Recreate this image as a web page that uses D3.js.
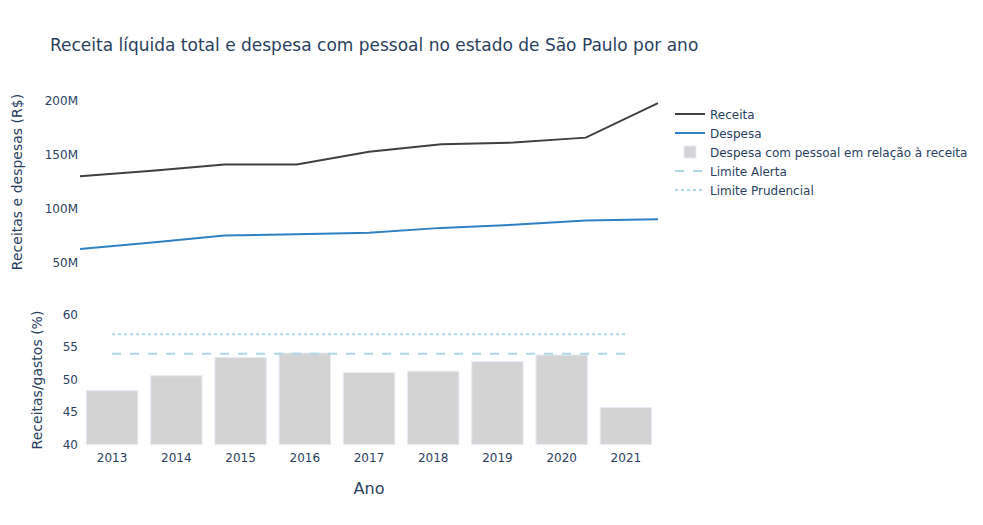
<!DOCTYPE html>
<html><head><meta charset="utf-8">
<script src="https://cdn.jsdelivr.net/npm/d3@7"></script>
<style>body{margin:0;background:#fff}svg{display:block;font-family:"DejaVu Sans",verdana,sans-serif}</style>
</head><body><svg id="c" width="983" height="525"></svg>
<script>
const years = [2013,2014,2015,2016,2017,2018,2019,2020,2021];
const receita = [129.7,134.8,140.5,140.5,152.3,159.3,160.8,165.4,197.3]; // millions R$
const despesa = [62.4,68.5,75.0,76.2,77.4,82.0,84.8,88.8,90.0];
const ratio = [48.3,50.6,53.4,54.1,51.1,51.3,52.8,53.8,45.7];
const limiteAlerta = [54,54,54,54,54,54,54,54,54];
const limitePrudencial = [57,57,57,57,57,57,57,57,57];
const topTicks = [50,100,150,200];
const bottomTicks = [40,45,50,55,60];

const svg = d3.select("#c");
const fc = "#2a3f5f";
const ff = '"DejaVu Sans",verdana,sans-serif';
const left = 80, right = 658;

const xTop = d3.scaleLinear().domain([2013,2021]).range([left,right]);
const yTop = d3.scaleLinear().domain([50,200]).range([262.5,100.2]);
const xBot = d3.scaleBand().domain(years.map(String)).range([left,right]).paddingInner(0.2).paddingOuter(0.1);
const yBot = d3.scaleLinear().domain([40,60]).range([444.5,314.7]);

svg.append("text").attr("x",50).attr("y",51).attr("fill",fc).attr("font-size",17)
  .text("Receita líquida total e despesa com pessoal no estado de São Paulo por ano");

const gTop = svg.append("g").attr("transform",`translate(${left-2},0)`)
  .call(d3.axisLeft(yTop).tickValues(topTicks).tickSize(0).tickPadding(0).tickFormat(d=>d+"M"))
  .attr("font-family",ff).attr("font-size",12);
gTop.select(".domain").remove();
gTop.selectAll("text").attr("fill",fc);

const line = (arr)=> d3.line().x((d,i)=>xTop(years[i])).y(d=>yTop(d))(arr);
svg.append("path").attr("d",line(receita)).attr("fill","none").attr("stroke","#404040").attr("stroke-width",2);
svg.append("path").attr("d",line(despesa)).attr("fill","none").attr("stroke","#2f80c3").attr("stroke-width",2);

svg.append("text").attr("transform",`translate(22,182) rotate(-90)`).attr("text-anchor","middle")
  .attr("fill",fc).attr("font-size",14).text("Receitas e despesas (R$)");

svg.append("g").selectAll("rect").data(ratio).join("rect")
  .attr("x",(d,i)=>xBot(String(years[i]))).attr("width",xBot.bandwidth())
  .attr("y",d=>yBot(d)).attr("height",d=>yBot(40)-yBot(d))
  .attr("fill","#d3d3d3").attr("stroke","#e5ecf6").attr("stroke-width",1);

const cx = (i)=> xBot(String(years[i])) + xBot.bandwidth()/2;
const lineB = (arr)=> d3.line().x((d,i)=>cx(i)).y(d=>yBot(d))(arr);
svg.append("path").attr("d",lineB(limiteAlerta)).attr("fill","none").attr("stroke","#add8e6").attr("stroke-width",2).attr("stroke-dasharray","9,9");
svg.append("path").attr("d",lineB(limitePrudencial)).attr("fill","none").attr("stroke","#add8e6").attr("stroke-width",2).attr("stroke-dasharray","3,3");

const gB = svg.append("g").attr("transform",`translate(${left-2},0)`)
  .call(d3.axisLeft(yBot).tickValues(bottomTicks).tickSize(0).tickPadding(0))
  .attr("font-family",ff).attr("font-size",12);
gB.select(".domain").remove();
gB.selectAll("text").attr("fill",fc);

const gX = svg.append("g").attr("transform",`translate(0,${444.5})`)
  .call(d3.axisBottom(xBot).tickSize(0).tickPadding(9))
  .attr("font-family",ff).attr("font-size",12);
gX.select(".domain").remove();
gX.selectAll("text").attr("fill",fc);

svg.append("text").attr("transform",`translate(42,380) rotate(-90)`).attr("text-anchor","middle")
  .attr("fill",fc).attr("font-size",14).text("Receitas/gastos (%)");
svg.append("text").attr("x",369).attr("y",494).attr("text-anchor","middle")
  .attr("fill",fc).attr("font-size",16).text("Ano");

const legend = [
  {name:"Receita", type:"line", color:"#404040", dash:null},
  {name:"Despesa", type:"line", color:"#2f80c3", dash:null},
  {name:"Despesa com pessoal em relação à receita", type:"bar", color:"#d3d3d3"},
  {name:"Limite Alerta", type:"line", color:"#add8e6", dash:"9,9"},
  {name:"Limite Prudencial", type:"line", color:"#add8e6", dash:"3,3"}
];
const lg = svg.append("g");
legend.forEach((d,i)=>{
  const y = 114 + i*19;
  if(d.type==="line"){
    lg.append("line").attr("x1",675).attr("x2",705).attr("y1",y).attr("y2",y)
      .attr("stroke",d.color).attr("stroke-width",2).attr("stroke-dasharray",d.dash);
  } else {
    lg.append("rect").attr("x",684).attr("y",y-6).attr("width",12).attr("height",12)
      .attr("fill",d.color).attr("stroke","#e5ecf6").attr("stroke-width",1);
  }
  lg.append("text").attr("x",710).attr("y",y+4.5).attr("fill",fc).attr("font-size",12).text(d.name);
});
</script></body></html>
